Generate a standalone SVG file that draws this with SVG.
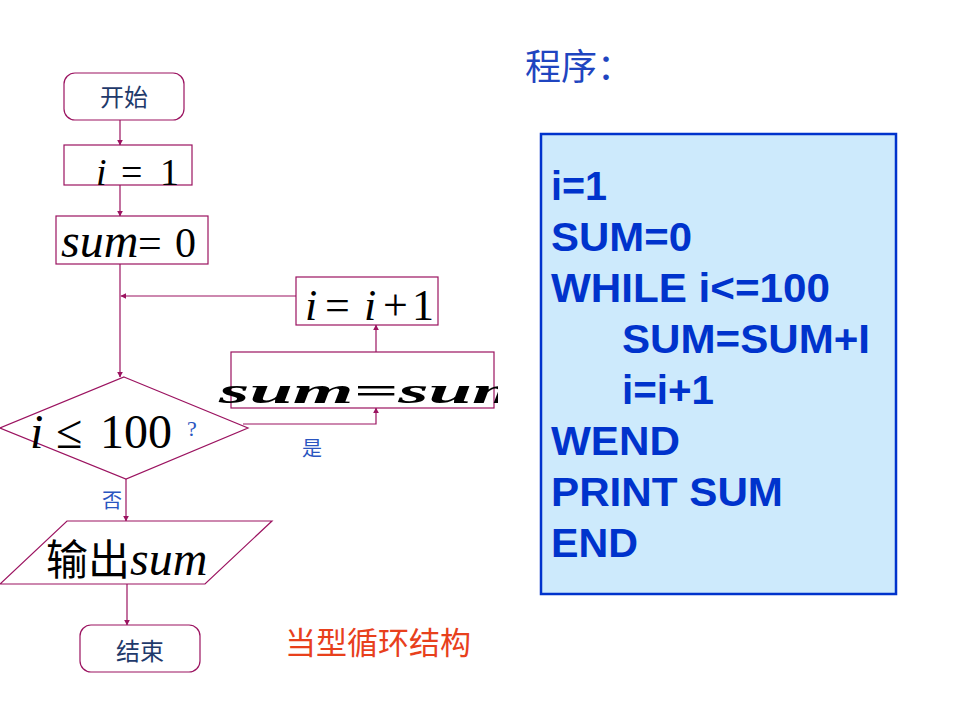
<svg xmlns="http://www.w3.org/2000/svg" width="960" height="720" viewBox="0 0 960 720">
<style>
.nd{fill:#fff;stroke:#9b1360;stroke-width:1.2}
.cn{fill:none;stroke:#9b1360;stroke-width:1.2}
.cjk{font-family:"Noto Sans CJK SC","Noto Sans",sans-serif}
.math{font-family:"Liberation Serif","DejaVu Serif",serif;fill:#000}
.lbl{fill:#2a55c0;font-size:20px}
.code{font-family:"Liberation Sans",Arial,sans-serif;font-weight:bold;font-size:40px;fill:#0033cc}
</style>
<defs>
<marker id="ah" viewBox="0 0 10 10" refX="9" refY="5" markerWidth="6" markerHeight="6" orient="auto" markerUnits="userSpaceOnUse">
<path d="M0,0 L10,5 L0,10 z" fill="#9b1360"/>
</marker>
<clipPath id="clipSum"><rect x="200" y="340" width="298" height="80"/></clipPath>
</defs>
<rect width="960" height="720" fill="#fff"/>
<g id="connectors">
<line class="cn" x1="120" y1="120" x2="120" y2="145" marker-end="url(#ah)"/>
<line class="cn" x1="120" y1="185" x2="120" y2="216" marker-end="url(#ah)"/>
<line class="cn" x1="120" y1="264" x2="120" y2="377" marker-end="url(#ah)"/>
<line class="cn" x1="296" y1="296" x2="121" y2="296" marker-end="url(#ah)"/>
<polyline class="cn" points="243,424 376,424 376,408" marker-end="url(#ah)"/>
<line class="cn" x1="376" y1="352" x2="376" y2="325" marker-end="url(#ah)"/>
<line class="cn" x1="126" y1="479" x2="126" y2="521" marker-end="url(#ah)"/>
<line class="cn" x1="127" y1="584" x2="127" y2="625" marker-end="url(#ah)"/>
<text class="cjk lbl" x="312" y="456" text-anchor="middle">是</text>
<text class="cjk lbl" x="112" y="508" text-anchor="middle">否</text>
</g>
<g id="start">
<rect class="nd" x="64" y="73" width="120" height="47" rx="11"/>
<text class="cjk" x="124" y="106" font-size="24" fill="#1f3a6b" text-anchor="middle">开始</text>
</g>
<g id="init-i">
<rect class="nd" x="64" y="145" width="128" height="40"/>
<text class="math" x="96" y="185" font-size="38"><tspan font-style="italic">i</tspan><tspan x="121">=</tspan><tspan x="160">1</tspan></text>
</g>
<g id="init-sum">
<rect class="nd" x="56" y="216" width="152" height="48"/>
<text class="math" x="61" y="257" font-size="42"><tspan font-style="italic" font-size="48">sum</tspan><tspan x="138">=</tspan><tspan x="175">0</tspan></text>
</g>
<g id="incr">
<rect class="nd" x="296" y="277" width="142" height="48"/>
<text class="math" x="305" y="320" font-size="44"><tspan font-style="italic">i</tspan><tspan x="325">=</tspan><tspan x="364" font-style="italic">i</tspan><tspan x="383">+</tspan><tspan x="412">1</tspan></text>
</g>
<g id="accum">
<rect class="nd" x="231" y="352" width="263" height="56"/>
<g clip-path="url(#clipSum)">
<text class="math" x="219" y="404" font-size="44" font-weight="bold" font-style="italic" textLength="380" lengthAdjust="spacingAndGlyphs" transform="translate(0,80) scale(1,0.8)">sum=sum+i</text>
</g>
</g>
<g id="cond">
<polygon class="nd" points="124,377 248,428 126,479 0,428"/>
<text class="math" x="30" y="448" font-size="48"><tspan font-style="italic">i</tspan><tspan x="56">≤</tspan><tspan x="100">100</tspan></text>
<text class="math" x="187" y="436" font-size="22" style="fill:#2a55c0">?</text>
</g>
<g id="output">
<polygon class="nd" points="67,521 272,521 205,584 0,584"/>
<text class="cjk" x="46" y="575" font-size="42" fill="#000">输出</text>
<text class="math" x="130" y="575" font-size="48" font-style="italic">sum</text>
</g>
<g id="end">
<rect class="nd" x="80" y="625" width="120" height="47" rx="11"/>
<text class="cjk" x="140" y="660" font-size="24" fill="#1f3a6b" text-anchor="middle">结束</text>
</g>
<g id="title">
<text class="cjk" x="525" y="80" font-size="36" fill="#1f45c0">程序：</text>
</g>
<g id="caption">
<text class="cjk" x="285" y="654" font-size="31" fill="#e8401c">当型循环结构</text>
</g>
<g id="program">
<rect x="541" y="134" width="355" height="460" fill="#cdeafc" stroke="#0033cc" stroke-width="2.5"/>
<text class="code" x="551" y="200" textLength="56" lengthAdjust="spacingAndGlyphs">i=1</text>
<text class="code" x="551" y="251" textLength="141" lengthAdjust="spacingAndGlyphs">SUM=0</text>
<text class="code" x="551" y="302" textLength="279" lengthAdjust="spacingAndGlyphs">WHILE i&lt;=100</text>
<text class="code" x="622" y="353" textLength="248" lengthAdjust="spacingAndGlyphs">SUM=SUM+I</text>
<text class="code" x="622" y="404" textLength="92" lengthAdjust="spacingAndGlyphs">i=i+1</text>
<text class="code" x="551" y="455" textLength="129" lengthAdjust="spacingAndGlyphs">WEND</text>
<text class="code" x="551" y="506" textLength="232" lengthAdjust="spacingAndGlyphs">PRINT SUM</text>
<text class="code" x="551" y="557" textLength="87" lengthAdjust="spacingAndGlyphs">END</text>
</g>
</svg>
